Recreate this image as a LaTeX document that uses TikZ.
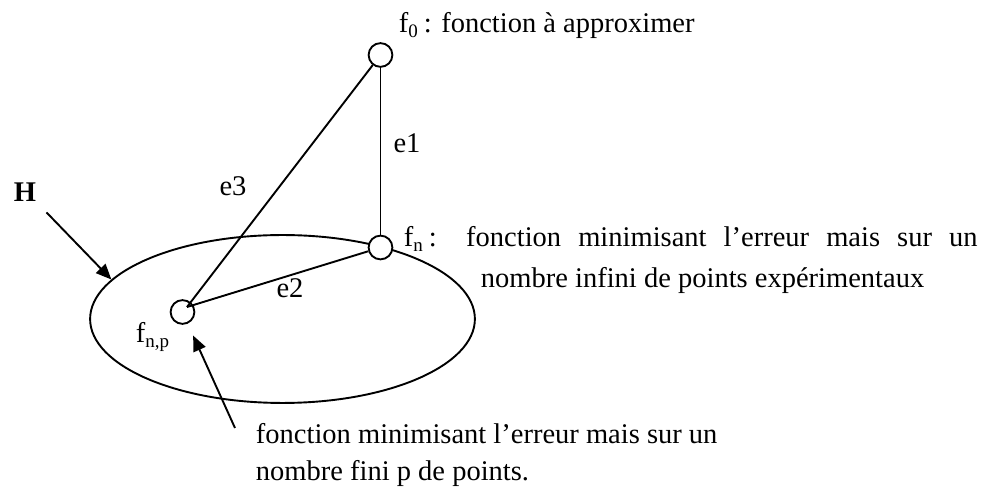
\documentclass[tikz,border=0pt]{standalone}
\usepackage{fontspec}
\setmainfont{Liberation Serif}
\usetikzlibrary{arrows.meta,shapes.geometric}

\begin{document}
\begin{tikzpicture}[
  x=0.421pt, y=-0.421pt,
  font=\fontsize{12}{15}\selectfont,
  line width=0.8pt,
  every node/.style={inner sep=0pt},
  pt/.style={draw, circle, minimum size=10pt},
  txt/.style={anchor=base west},
  elab/.style={anchor=base},
  arr/.style={-{Triangle[length=6.5pt,width=5.5pt]}},
]
\useasboundingbox (0,0) rectangle (993,489);
% the set H and the three functions
\node[draw, ellipse, minimum width=162pt, minimum height=70.7pt] (hset) at (282.5,319) {};
\node[anchor=base, inner sep=4pt, font=\fontsize{12}{15}\selectfont\bfseries] (H) at (25,202) {H};
\node[pt, fill=white] (f0) at (380.5,55) {};
\node[pt, fill=white] (fn) at (380.5,247.5) {};
\node[pt] (fnp) at (182.5,312) {};
\coordinate (hub) at (187,307);
\coordinate (tail) at (235,428);

% errors
\draw (f0) -- (fn);
\draw (hub) -- (f0);
\draw (hub) -- (fn);
\node[elab] (e1) at (407,153) {e1};
\node[elab] (e3) at (233,196) {e3};
\node[elab] (e2) at (290,298) {e2};

% arrows
\draw[arr] (H.south east) -- (hset.167.7);
\draw[arr, shorten >=5.5pt] (tail) -- (fnp);

% texts
\node[txt] (f0txt) at (398,33) {f\textsubscript{0}\,: fonction à approximer};
\node[txt] (fntxt) at (403,247) {\makebox[241.5pt][s]{f\textsubscript{n}\,: fonction minimisant l’erreur mais sur un}};
\node[txt] (fntxt2) at (480,288) {nombre infini de points expérimentaux};
\node[txt] (fnplab) at (135,343) {f\textsubscript{n,p}};
\node[txt] (fnptxt) at (255,444) {fonction minimisant l’erreur mais sur un};
\node[txt] (fnptxt2) at (255,481) {nombre fini p de points.};
\end{tikzpicture}
\end{document}
